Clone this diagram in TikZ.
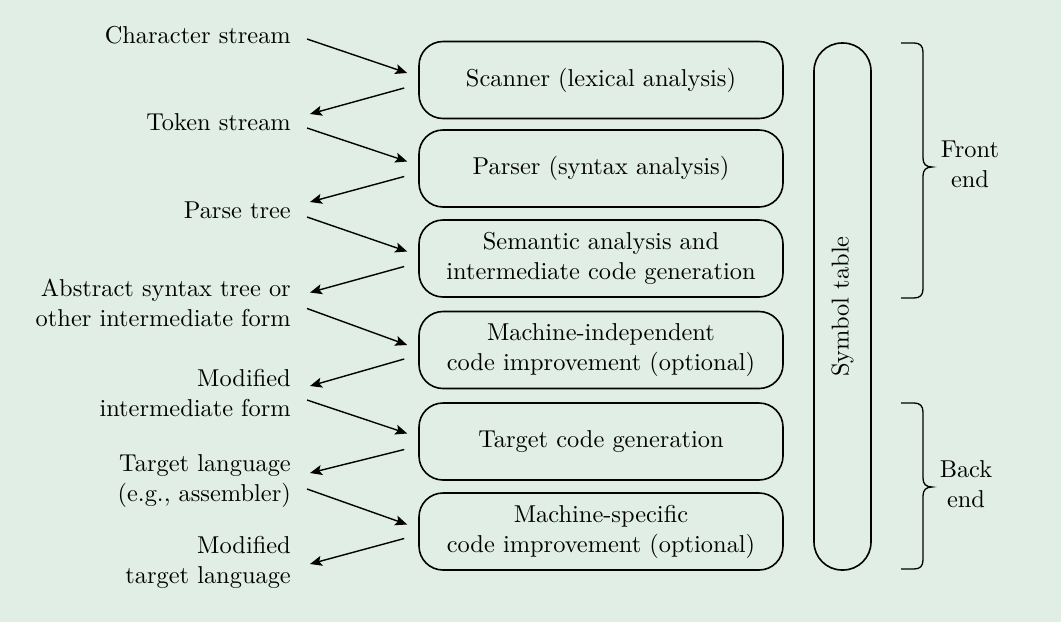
\documentclass[tikz,border=0pt]{standalone}
\usepackage{fontspec}
\setmainfont{lmroman10-regular}[Extension=.otf]
\usetikzlibrary{arrows.meta,calc}
\definecolor{bg}{RGB}{224,238,230}
\begin{document}
\begin{tikzpicture}[x=1pt,y=-1pt,
  font=\fontsize{24.4}{30}\selectfont,
  stage/.style={draw, line width=1.6pt, rounded corners=24pt, minimum width=364pt, minimum height=77pt, align=center, inner sep=0pt},
  lbl/.style={anchor=east, align=right, inner sep=0pt},
  flow/.style={line width=1.4pt, -{Stealth[length=12pt,width=10pt,inset=2.5pt]}},
  bracestyle/.style={line width=1.3pt}]
\fill[bg] (0,0) rectangle (1061,622);
\useasboundingbox (0,0) rectangle (1061,622);

% stages
\node[stage] (b1) at (601,80)    {Scanner (lexical analysis)};
\node[stage] (b2) at (601,168.5) {Parser (syntax analysis)};
\node[stage] (b3) at (601,258.5) {Semantic analysis and\\intermediate code generation};
\node[stage] (b4) at (601,350)   {Machine-independent\\code improvement (optional)};
\node[stage] (b5) at (601,441.5) {Target code generation};
\node[stage] (b6) at (601,531.5) {Machine-specific\\code improvement (optional)};

% symbol table
\node[draw, line width=1.6pt, rounded corners=28pt, minimum width=57pt, minimum height=527pt, inner sep=0pt] (sym) at (842.5,306.5) {};
\node[rotate=90] (symtxt) at (sym.center) {Symbol table};

% labels
\node[lbl] (l1) at (291,35)    {Character stream};
\node[lbl] (l2) at (291,122)   {Token stream};
\node[lbl] (l3) at (291,210)   {Parse tree};
\node[lbl] (l4) at (291,302.5) {Abstract syntax tree or\\other intermediate form};
\node[lbl] (l5) at (291,393)   {Modified\\intermediate form};
\node[lbl] (l6) at (291,481)   {Target language\\(e.g., assembler)};
\node[lbl] (l7) at (291,562)   {Modified\\target language};

% arrows in
\draw[flow] ($(l1.east)+(16,4)$) -- ($(b1.west)+(-11,-7)$);
\draw[flow] ($(l2.east)+(16,6)$) -- ($(b2.west)+(-11,-7)$);
\draw[flow] ($(l3.east)+(16,7)$) -- ($(b3.west)+(-11,-7)$);
\draw[flow] ($(l4.east)+(16,6)$) -- ($(b4.west)+(-11,-5)$);
\draw[flow] ($(l5.east)+(16,7)$) -- ($(b5.west)+(-11,-8)$);
\draw[flow] ($(l6.east)+(16,8)$) -- ($(b6.west)+(-11,-7)$);
% arrows out
\draw[flow] ($(b1.west)+(-14,8)$) -- ($(l2.east)+(19,-8)$);
\draw[flow] ($(b2.west)+(-14,8)$) -- ($(l3.east)+(19,-8)$);
\draw[flow] ($(b3.west)+(-14,8)$) -- ($(l4.east)+(19,-10)$);
\draw[flow] ($(b4.west)+(-14,9)$) -- ($(l5.east)+(19,-7)$);
\draw[flow] ($(b5.west)+(-14,8)$) -- ($(l6.east)+(19,-8)$);
\draw[flow] ($(b6.west)+(-14,7)$) -- ($(l7.east)+(19,2)$);

% braces
\draw[bracestyle] (901,43) -- (914,43) .. controls (920,43) and (923,46) .. (923,52)
  -- (923,158) .. controls (923,164) and (926,167) .. (932,167)
  .. controls (926,167) and (923,170) .. (923,176)
  -- (923,289) .. controls (923,295) and (920,298) .. (914,298) -- (901,298);
\node[align=center, inner sep=0pt] (fe) at (970,164) {Front\\end};
\draw[bracestyle] (901,403) -- (914,403) .. controls (920,403) and (923,406) .. (923,412)
  -- (923,478) .. controls (923,484) and (926,487) .. (932,487)
  .. controls (926,487) and (923,490) .. (923,496)
  -- (923,560) .. controls (923,566) and (920,569) .. (914,569) -- (901,569);
\node[align=center, inner sep=0pt] (be) at (966,484) {Back\\end};
\end{tikzpicture}
\end{document}
